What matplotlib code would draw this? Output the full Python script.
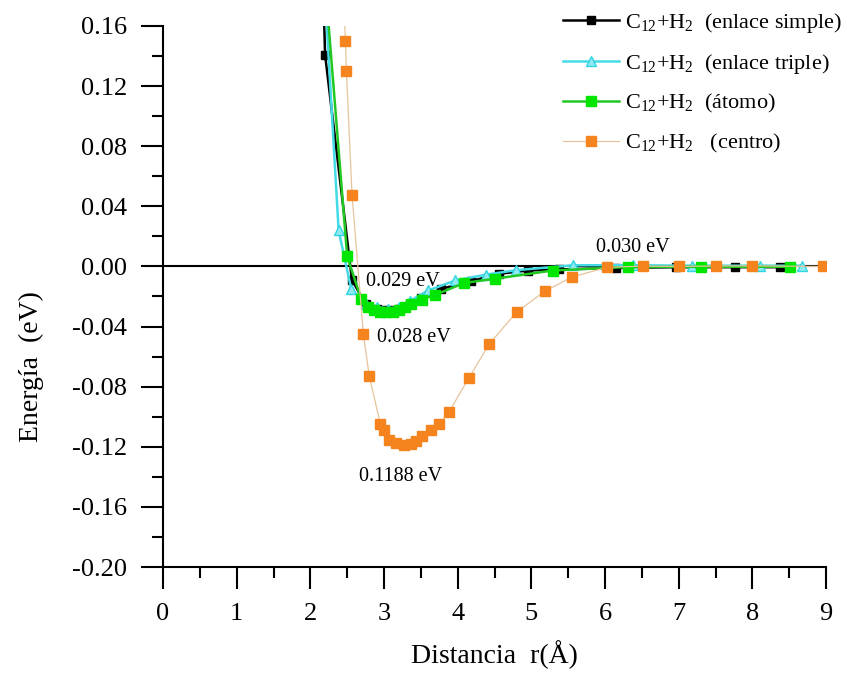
import matplotlib
matplotlib.use("Agg")
from matplotlib import pyplot as plt
from matplotlib.ticker import MultipleLocator

plt.rcParams['font.family'] = ['Liberation Serif', 'DejaVu Serif']
plt.rcParams['mathtext.fontset'] = 'custom'
plt.rcParams['mathtext.rm'] = 'Liberation Serif'
plt.rcParams['mathtext.it'] = 'Liberation Serif:italic'

# Distancia (Å) y energía (eV) de cada configuración
simple_r = [2.0, 2.2, 2.565, 2.75, 2.9, 3.0, 3.1, 3.2, 3.35, 3.5, 3.77, 4.18, 4.56, 4.96,
            5.37, 6.15, 6.97, 7.77, 8.37]
simple_e = [0.50, 0.141, -0.009, -0.025, -0.028, -0.029, -0.029, -0.028, -0.025, -0.021,
            -0.015, -0.0098, -0.0049, -0.0027, -0.002, -0.001, -0.0005, -0.0005, -0.0005]

triple_r = [2.2, 2.384, 2.555, 2.75, 2.9, 3.05, 3.2, 3.35, 3.6, 3.97, 4.38, 4.79, 5.57,
            6.38, 7.18, 8.1, 8.67]
triple_e = [0.18, 0.024, -0.015, -0.025, -0.027, -0.028, -0.027, -0.023, -0.016, -0.0093,
            -0.0055, -0.0025, 0.0008, 0.0008, 0.0005, 0.0005, 0.0005]

atomo_r = [2.2, 2.5, 2.69, 2.78, 2.87, 2.95, 3.03, 3.12, 3.2, 3.28, 3.36, 3.51, 3.69, 4.09,
           4.50, 5.29, 6.31, 7.30, 8.51]
atomo_e = [0.19, 0.0067, -0.0215, -0.027, -0.029, -0.030, -0.0305, -0.030, -0.029, -0.027,
           -0.025, -0.022, -0.019, -0.011, -0.0082, -0.0027, -0.0004, -0.0002, -0.0002]

centro_r = [2.4, 2.476, 2.49, 2.566, 2.72, 2.80, 2.95, 3.0, 3.065, 3.16, 3.27, 3.36, 3.43,
            3.52, 3.64, 3.75, 3.88, 4.155, 4.43, 4.80, 5.18, 5.55, 6.03, 6.52, 7.01, 7.5,
            7.99, 8.96]
centro_e = [0.25, 0.150, 0.130, 0.0477, -0.0452, -0.073, -0.1047, -0.109, -0.1153, -0.1175,
            -0.1188, -0.118, -0.116, -0.113, -0.1087, -0.1047, -0.097, -0.074, -0.0515,
            -0.0304, -0.0166, -0.0071, -0.0005, 0.0002, 0.0, 0.0003, 0.0004, 0.0]

labels = [r"C$_{12}$+H$_2$  (enlace simple)", r"C$_{12}$+H$_2$  (enlace triple)",
          r"C$_{12}$+H$_2$  (átomo)", r"C$_{12}$+H$_2$   (centro)"]

# Profundidad de cada pozo: texto, x, y
notes = ["0.029 eV", "0.028 eV", "0.1188 eV", "0.030 eV"]
notes_x = [2.75, 2.91, 2.66, 5.88]
notes_y = [-0.010, -0.047, -0.140, 0.0127]

fig = plt.figure(figsize=(8.47, 6.77), dpi=100)
ax = fig.add_axes([163 / 847, 1 - 567 / 677, 663 / 847, 541 / 677])

ax.axhline(0, color='black', lw=1.5, zorder=1)

ax.plot(simple_r, simple_e, color='black', lw=1.8, marker='s', ms=6, mfc='black',
        mec='black', label=labels[0], zorder=2)
ax.plot(triple_r, triple_e, color='#45dbe6', lw=1.8, marker='^', ms=7, mfc='#8eeaf0',
        mec='#30d4e2', label=labels[1], zorder=3)
ax.plot(atomo_r, atomo_e, color='#22c822', lw=1.8, marker='s', ms=6.5, mfc='#00e600',
        mec='#00e600', label=labels[2], zorder=4)
ax.plot(centro_r, centro_e, color='#e6c49c', lw=0.9, marker='s', ms=6.5, mfc='#f5841f',
        mec='#f5841f', label=labels[3], zorder=5)

for t, x, y in zip(notes, notes_x, notes_y):
    ax.text(x, y, t, fontsize=14.5, ha='left', va='center', zorder=6)

ax.set_xlim(0, 9)
ax.set_ylim(-0.20, 0.16)
ax.xaxis.set_major_locator(MultipleLocator(1))
ax.xaxis.set_minor_locator(MultipleLocator(0.5))
ax.yaxis.set_major_locator(MultipleLocator(0.04))
ax.yaxis.set_minor_locator(MultipleLocator(0.02))
ax.yaxis.set_major_formatter(plt.FuncFormatter(lambda v, p: f"{v:.2f}".replace("-0.00", "0.00")))

for side in ['top', 'right']:
    ax.spines[side].set_visible(False)
for side in ['left', 'bottom']:
    ax.spines[side].set_linewidth(1.5)

ax.tick_params(which='major', direction='out', length=16, width=1.5, labelsize=19, pad=10)
ax.tick_params(which='minor', direction='out', length=8, width=1.5)

ax.set_xlabel("Distancia  r(Å)", fontsize=20)
ax.set_ylabel("Energía  (eV)", fontsize=20)
ax.xaxis.set_label_coords(0.5, -0.135)
ax.yaxis.set_label_coords(-0.18, 0.37)

fig.legend(loc='upper left', bbox_to_anchor=(563 / 847, 1 - 11 / 677), frameon=False,
           fontsize=16, handlelength=2.5, handletextpad=0.3, labelspacing=0.75,
           borderpad=0, borderaxespad=0)

fig.savefig("out.png", dpi=100)
